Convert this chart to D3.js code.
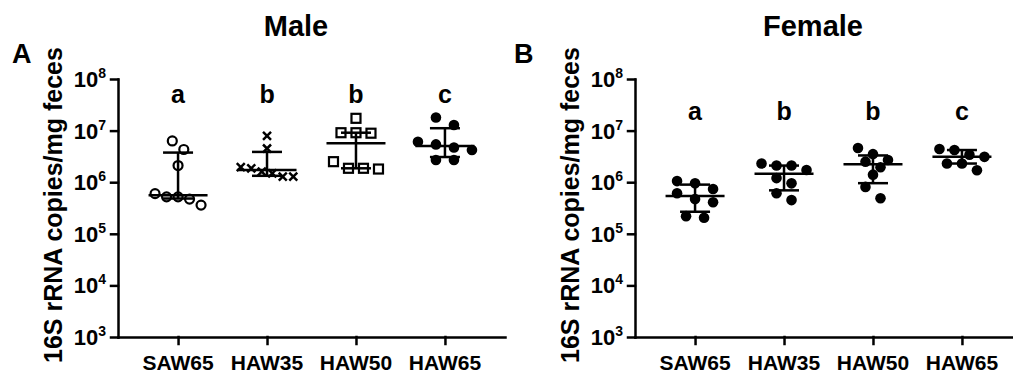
<!DOCTYPE html>
<html>
<head>
<meta charset="utf-8">
<script src="https://cdn.jsdelivr.net/npm/d3@7"></script>
<style>
    body { margin: 0; background: #fff; }
    svg text { font-family: Arial, "Liberation Sans", sans-serif; font-weight: bold; fill: #000; }
</style>
</head>
<body>
<div id="chart"></div>
<script>
// groups, ticks and letters
const groups = ["SAW65", "HAW35", "HAW50", "HAW65"];
const yTicks = [1e3, 1e4, 1e5, 1e6, 1e7, 1e8];
const maleLetters = ["a", "b", "b", "c"];
const femaleLetters = ["a", "b", "b", "c"];

// 16S rRNA copies / mg feces, one array per group
const maleSAW65 = [6.3e6, 4.3e6, 2.1e6, 6.0e5, 5.2e5, 5.2e5, 4.7e5, 3.6e5];
const maleHAW35 = [7.9e6, 4.5e6, 1.95e6, 1.86e6, 1.6e6, 1.48e6, 1.28e6, 1.28e6];
const maleHAW50 = [1.73e7, 9.1e6, 8.9e6, 9.1e6, 2.5e6, 1.86e6, 1.86e6, 1.8e6];
const maleHAW65 = [1.8e7, 1.28e7, 6.1e6, 5.4e6, 4.7e6, 4.2e6, 2.7e6, 2.7e6];

const femaleSAW65 = [1.05e6, 9.5e5, 7.4e5, 6.1e5, 4.7e5, 4.1e5, 2.2e5, 2.05e5];
const femaleHAW35 = [2.3e6, 2.1e6, 2.1e6, 1.72e6, 1.2e6, 9.5e5, 6.1e5, 4.5e5];
const femaleHAW50 = [4.6e6, 3.5e6, 2.7e6, 2.5e6, 1.95e6, 1.4e6, 8.1e5, 4.9e5];
const femaleHAW65 = [4.4e6, 4.2e6, 3.4e6, 3.1e6, 2.3e6, 2.3e6, 1.7e6];

const svg = d3.select("#chart").append("svg")
    .attr("width", 1013)
    .attr("height", 376);

// quartiles the way Prism does it: position (n+1)p
function quant(sorted, p) {
    let n = sorted.length;
    let h = (n + 1) * p;
    let lo = Math.floor(h);
    if (lo < 1) return sorted[0];
    if (lo >= n) return sorted[n - 1];
    return sorted[lo - 1] + (h - lo) * (sorted[lo] - sorted[lo - 1]);
}

class ScatterPanel {
    constructor(opts) {
        this.opts = opts;
        this.initVis();
    }

    initVis() {
        let vis = this;
        let o = vis.opts;

        vis.left = o.left;
        vis.top = 79;
        vis.bottom = 337;
        vis.axisLen = 387;

        vis.g = svg.append("g");

        vis.x = d3.scalePoint()
            .domain(groups)
            .range([vis.left, vis.left + vis.axisLen])
            .padding(0.675);

        vis.y = d3.scaleLog()
            .domain([1e3, 1e8])
            .range([vis.bottom, vis.top]);

        // axes
        let yAxis = d3.axisLeft(vis.y)
            .tickValues(yTicks)
            .tickFormat("")
            .tickSize(7)
            .tickSizeOuter(0);

        let xAxis = d3.axisBottom(vis.x)
            .tickFormat("")
            .tickSize(7)
            .tickSizeOuter(0);

        let ya = vis.g.append("g")
            .attr("transform", "translate(" + vis.left + ",0)")
            .call(yAxis);

        let xa = vis.g.append("g")
            .attr("transform", "translate(0," + vis.bottom + ")")
            .call(xAxis);

        [ya, xa].forEach(a => {
            a.selectAll("path, line")
                .attr("stroke", "#000")
                .attr("stroke-width", 2.5)
                .attr("stroke-linecap", "square");
        });

        // 10^n labels
        yTicks.forEach(t => {
            let txt = vis.g.append("text")
                .attr("x", vis.left - 12)
                .attr("y", vis.y(t) + 8)
                .attr("text-anchor", "end")
                .attr("font-size", 22);
            txt.append("tspan").text("10");
            txt.append("tspan")
                .attr("dy", -9)
                .attr("font-size", 14)
                .text(Math.round(Math.log10(t)));
        });

        // category labels
        groups.forEach(gname => {
            vis.g.append("text")
                .attr("x", vis.x(gname))
                .attr("y", 370)
                .attr("text-anchor", "middle")
                .attr("font-size", 21)
                .text(gname);
        });

        // y title
        vis.g.append("text")
            .attr("transform", "translate(" + (vis.left - 56) + ",205) rotate(-90)")
            .attr("text-anchor", "middle")
            .attr("font-size", 25)
            .text("16S rRNA copies/mg feces");

        // panel title and letter
        vis.g.append("text")
            .attr("x", o.titleX)
            .attr("y", 36)
            .attr("text-anchor", "middle")
            .attr("font-size", 29)
            .text(o.title);

        vis.g.append("text")
            .attr("x", o.letterX)
            .attr("y", 63)
            .attr("font-size", 27)
            .text(o.letter);

        vis.wrangleData();
    }

    wrangleData() {
        let vis = this;
        let o = vis.opts;

        vis.stats = [];
        vis.points = [];

        groups.forEach((gname, i) => {
            let vals = o.series[i];
            let sorted = vals.slice().sort(d3.ascending);
            vis.stats.push({
                group: gname,
                med: quant(sorted, 0.5),
                q1: quant(sorted, 0.25),
                q3: quant(sorted, 0.75)
            });

            // spread points sitting at about the same height
            let byY = vals.map(v => ({group: gname, value: v, py: vis.y(v)}))
                .sort((a, b) => a.py - b.py);
            let bins = [];
            byY.forEach(p => {
                let last = bins[bins.length - 1];
                if (last && p.py - last[0].py < 12) last.push(p);
                else bins.push([p]);
            });
            let step = o.steps[i];
            bins.forEach(b => {
                b.forEach((p, k) => {
                    p.dx = (k - (b.length - 1) / 2) * step;
                    p.shape = o.shapes[i];
                    vis.points.push(p);
                });
            });
        });

        vis.updateVis();
    }

    updateVis() {
        let vis = this;
        let o = vis.opts;

        let pts = vis.g.append("g");
        vis.points.forEach(p => {
            let cx = vis.x(p.group) + p.dx;
            let cy = p.py;
            if (p.shape === "openCircle") {
                pts.append("circle")
                    .attr("cx", cx).attr("cy", cy).attr("r", 4.5)
                    .attr("fill", "#fff").attr("stroke", "#000").attr("stroke-width", 2.2);
            } else if (p.shape === "dot") {
                pts.append("circle")
                    .attr("cx", cx).attr("cy", cy).attr("r", 5.3)
                    .attr("fill", "#000");
            } else if (p.shape === "square") {
                pts.append("rect")
                    .attr("x", cx - 4.5).attr("y", cy - 4.5)
                    .attr("width", 9).attr("height", 9)
                    .attr("fill", "#fff").attr("stroke", "#000").attr("stroke-width", 2.2);
            } else {
                pts.append("path")
                    .attr("d", "M" + (cx - 4) + "," + (cy - 4) + "L" + (cx + 4) + "," + (cy + 4) +
                        "M" + (cx - 4) + "," + (cy + 4) + "L" + (cx + 4) + "," + (cy - 4))
                    .attr("stroke", "#000").attr("stroke-width", 2.5);
            }
        });

        // median with interquartile range
        let bars = vis.g.append("g")
            .attr("stroke", "#000")
            .attr("stroke-width", 2.5);

        vis.stats.forEach(s => {
            let cx = vis.x(s.group);
            bars.append("line")
                .attr("x1", cx).attr("x2", cx)
                .attr("y1", vis.y(s.q3)).attr("y2", vis.y(s.q1));
            bars.append("line")
                .attr("x1", cx - 29.5).attr("x2", cx + 29.5)
                .attr("y1", vis.y(s.med)).attr("y2", vis.y(s.med));
            [s.q1, s.q3].forEach(v => {
                bars.append("line")
                    .attr("x1", cx - 15).attr("x2", cx + 15)
                    .attr("y1", vis.y(v)).attr("y2", vis.y(v));
            });
        });

        // significance letters
        groups.forEach((gname, i) => {
            vis.g.append("text")
                .attr("x", vis.x(gname))
                .attr("y", vis.y(o.letterLevel))
                .attr("text-anchor", "middle")
                .attr("font-size", 25)
                .text(o.sigLetters[i]);
        });
    }
}

new ScatterPanel({
    left: 118,
    title: "Male",
    titleX: 296,
    letter: "A",
    letterX: 12,
    letterLevel: 3.4e7,
    sigLetters: maleLetters,
    series: [maleSAW65, maleHAW35, maleHAW50, maleHAW65],
    shapes: ["openCircle", "cross", "square", "dot"],
    steps: [11.5, 10.5, 15, 18]
});

new ScatterPanel({
    left: 635,
    title: "Female",
    titleX: 813,
    letter: "B",
    letterX: 514,
    letterLevel: 1.6e7,
    sigLetters: femaleLetters,
    series: [femaleSAW65, femaleHAW35, femaleHAW50, femaleHAW65],
    shapes: ["dot", "dot", "dot", "dot"],
    steps: [18, 15, 15, 15]
});
</script>
</body>
</html>
